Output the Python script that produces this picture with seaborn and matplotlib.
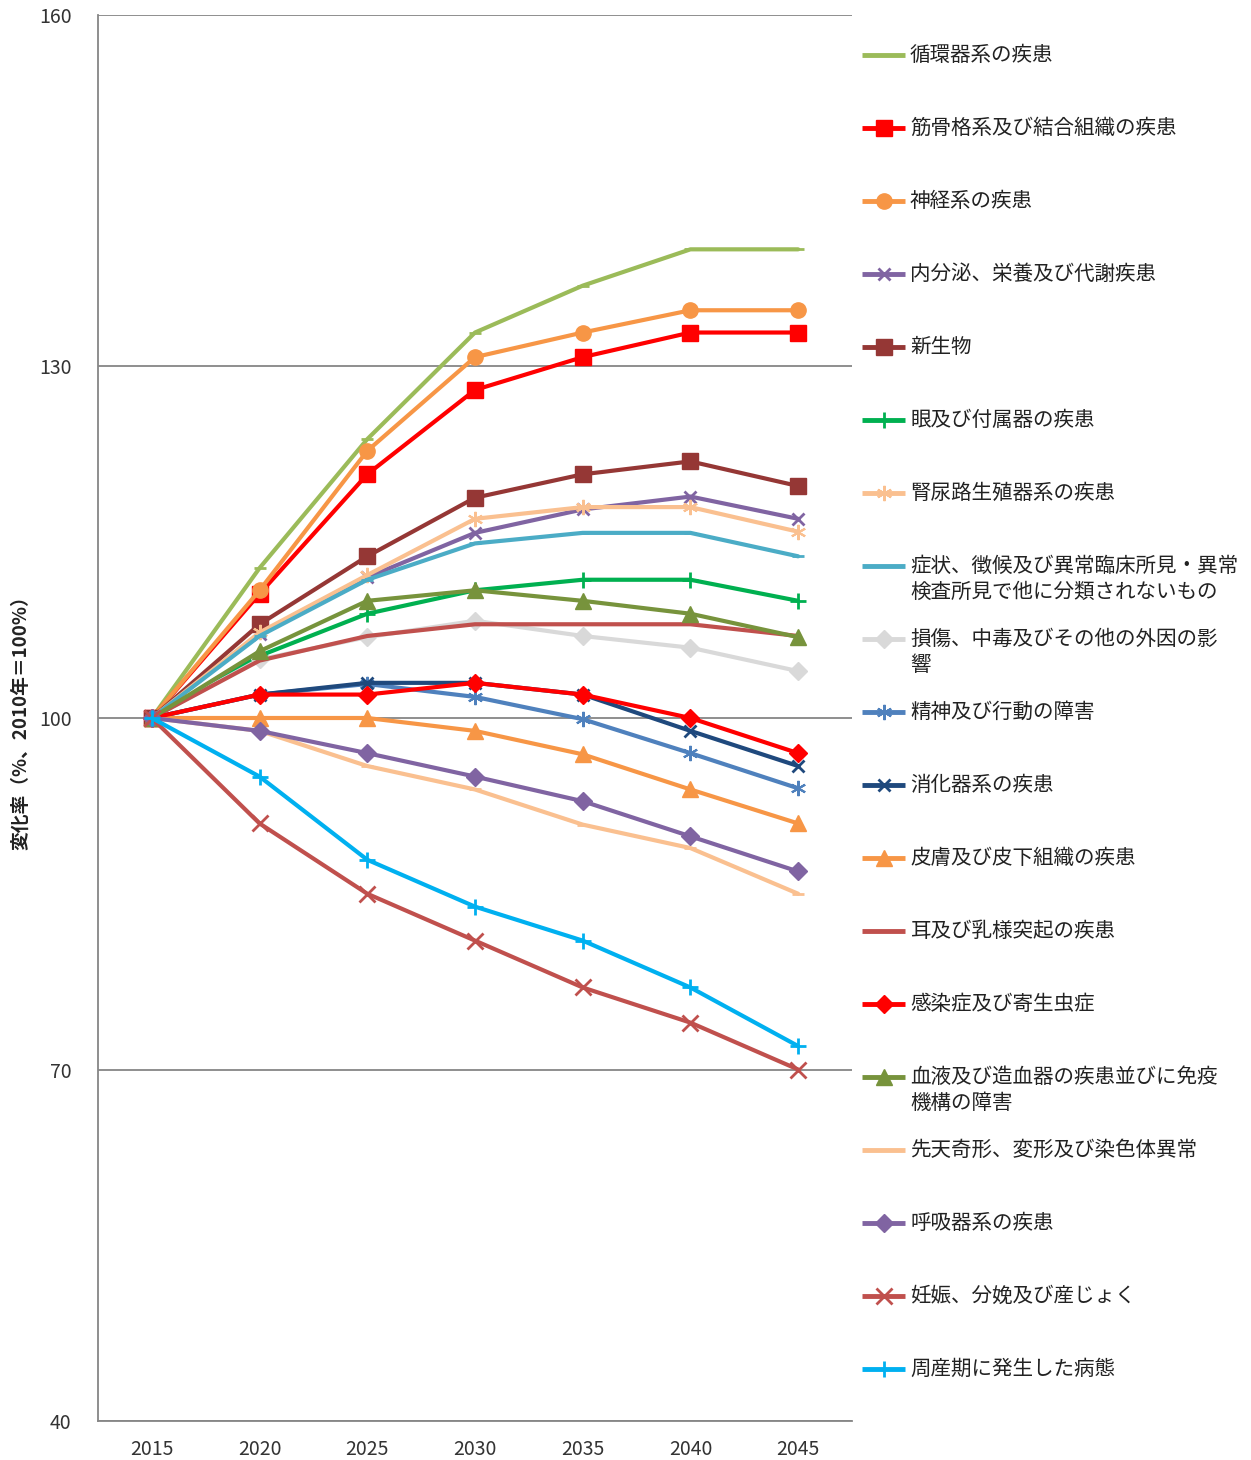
import matplotlib
matplotlib.use("Agg")
import matplotlib.pyplot as plt
import seaborn as sns
import numpy as np
import pandas as pd

# ---------------- data ----------------
years = ["2015", "2020", "2025", "2030", "2035", "2040", "2045"]

labels = [
    "循環器系の疾患",
    "筋骨格系及び結合組織の疾患",
    "神経系の疾患",
    "内分泌、栄養及び代謝疾患",
    "新生物",
    "眼及び付属器の疾患",
    "腎尿路生殖器系の疾患",
    "症状、徴候及び異常臨床所見・異常\n検査所見で他に分類されないもの",
    "損傷、中毒及びその他の外因の影\n響",
    "精神及び行動の障害",
    "消化器系の疾患",
    "皮膚及び皮下組織の疾患",
    "耳及び乳様突起の疾患",
    "感染症及び寄生虫症",
    "血液及び造血器の疾患並びに免疫\n機構の障害",
    "先天奇形、変形及び染色体異常",
    "呼吸器系の疾患",
    "妊娠、分娩及び産じょく",
    "周産期に発生した病態",
]

circulatory   = [100, 112.8, 123.8, 132.9, 136.9, 140.0, 140.0]
musculo       = [100, 110.6, 120.8, 128.0, 130.8, 132.9, 132.9]
nervous       = [100, 110.9, 122.8, 130.8, 132.9, 134.8, 134.8]
endocrine     = [100, 107.2, 112.0, 115.8, 117.8, 118.9, 117.0]
neoplasm      = [100, 108.0, 113.8, 118.8, 120.8, 121.9, 119.8]
eye           = [100, 105.3, 108.9, 110.9, 111.8, 111.8, 110.0]
genitourinary = [100, 107.3, 112.2, 117.0, 118.0, 118.0, 115.9]
symptoms      = [100, 107.0, 111.8, 114.9, 115.8, 115.8, 113.8]
injury        = [100, 105.0, 106.9, 108.3, 107.0, 106.0, 104.0]
mental        = [100, 102.0, 102.9, 101.8, 99.9, 97.0, 94.0]
digestive     = [100, 102.0, 103.0, 103.0, 102.0, 98.9, 95.9]
skin          = [100, 100.0, 100.0, 98.9, 96.9, 93.9, 91.0]
ear           = [100, 104.9, 107.0, 108.0, 108.0, 108.0, 107.0]
infectious    = [100, 102.0, 102.0, 103.0, 102.0, 100.0, 97.0]
blood         = [100, 105.7, 110.0, 110.9, 110.0, 108.9, 106.9]
congenital    = [100, 98.9, 95.9, 93.9, 90.9, 88.9, 85.0]
respiratory   = [100, 98.9, 97.0, 95.0, 92.9, 89.9, 86.9]
pregnancy     = [100, 91.0, 85.0, 81.0, 77.0, 74.0, 70.0]
perinatal     = [100, 95.0, 87.9, 83.9, 81.0, 77.0, 72.0]

series_values = [circulatory, musculo, nervous, endocrine, neoplasm, eye,
                 genitourinary, symptoms, injury, mental, digestive, skin,
                 ear, infectious, blood, congenital, respiratory, pregnancy,
                 perinatal]

yticks = [40, 70, 100, 130, 160]

# ---------------- styles ----------------
ASTER = (6, 2, 0)
colors = ["#9BBB59", "#FF0000", "#F79646", "#8064A2", "#953735", "#00B050",
          "#FAC090", "#4BACC6", "#D9D9D9", "#4F81BD", "#1F497D", "#F79646",
          "#C0504D", "#FF0000", "#77933C", "#FAC090", "#8064A2", "#C0504D",
          "#00B0F0"]
markers = ["_", "s", "o", "x", "s", "+", ASTER, "_", "D", ASTER, "x", "^",
           None, "D", "^", "_", "D", "x", "+"]
msizes = [8, 11, 11, 9, 11, 11, 11, 8, 9, 11, 9, 11, 0, 9, 11, 8, 9, 11, 12]
mews = [2, 1, 1, 2, 1, 2, 1.5, 2, 1, 1.5, 2, 1, 0, 1, 1, 2, 1, 2, 2]

# ---------------- figure ----------------
W, H = 1251, 1460
fig = plt.figure(figsize=(W / 100, H / 100), dpi=100)
sns.set_style("white")
plt.rcParams["font.family"] = ["Noto Sans CJK JP", "DejaVu Sans"]

ax = fig.add_axes([98 / W, (H - 1421) / H, (852 - 98) / W, (1421 - 15) / H])

x_idx = np.arange(len(years))
df = pd.DataFrame({
    "x": np.tile(x_idx, len(labels)),
    "value": np.concatenate(series_values),
    "series": np.repeat(np.arange(len(labels)), len(years)),
})

for i in range(len(labels)):
    sub = df[df["series"] == i]
    kw = dict(color=colors[i], linewidth=3.0, ax=ax, legend=False, zorder=3 + i)
    if markers[i] is not None:
        kw.update(marker=markers[i], markersize=msizes[i],
                  markeredgecolor=colors[i], markerfacecolor=colors[i],
                  markeredgewidth=mews[i])
    sns.lineplot(data=sub, x="x", y="value", **kw)

ax.set_xlim(-0.5, len(years) - 0.5)
ax.set_ylim(40, 160)
ax.set_yticks(yticks)
ax.set_yticklabels([str(t) for t in yticks], fontsize=14, color="#333333")
ax.set_xticks(x_idx)
ax.set_xticklabels(years, fontsize=14, color="#333333")
ax.set_xticks(np.arange(-0.5, len(years), 1.0), minor=True)
ax.tick_params(axis="x", which="major", length=0, pad=13)
ax.tick_params(axis="x", which="minor", length=6, width=1.2, color="#868686",
               direction="out")
ax.tick_params(axis="y", which="major", length=7, width=1.2, color="#868686",
               direction="out", pad=12)
ax.set_xlabel("")
ax.set_ylabel("変化率（%、2010年＝100%）", fontsize=13.5, fontweight="bold",
              labelpad=6, color="#222222")

ax.grid(axis="y", color="#868686", linewidth=1.3, zorder=0)
ax.grid(axis="x", visible=False)
ax.set_axisbelow(True)
for side in ["top", "right"]:
    ax.spines[side].set_visible(False)
for side in ["left", "bottom"]:
    ax.spines[side].set_color("#868686")
    ax.spines[side].set_linewidth(1.3)

# ---------------- legend (drawn in a pixel-space overlay) ----------------
lax = fig.add_axes([0, 0, 1, 1])
lax.set_xlim(0, W)
lax.set_ylim(H, 0)
lax.axis("off")
lax.patch.set_alpha(0)

y0, step = 55, 73.0
for i, lab in enumerate(labels):
    y = y0 + i * step
    lax.plot([862, 905], [y, y], color=colors[i], linewidth=3.5,
             solid_capstyle="butt")
    if markers[i] is not None:
        lax.plot([883.5], [y], linestyle="none", marker=markers[i],
                 markersize=msizes[i], color=colors[i],
                 markeredgecolor=colors[i], markeredgewidth=mews[i])
    for k, line in enumerate(lab.split("\n")):
        lax.text(910, y + k * 26, line, fontsize=14.8, va="center", ha="left",
                 color="#222222")

fig.savefig("out.png", dpi=100)
